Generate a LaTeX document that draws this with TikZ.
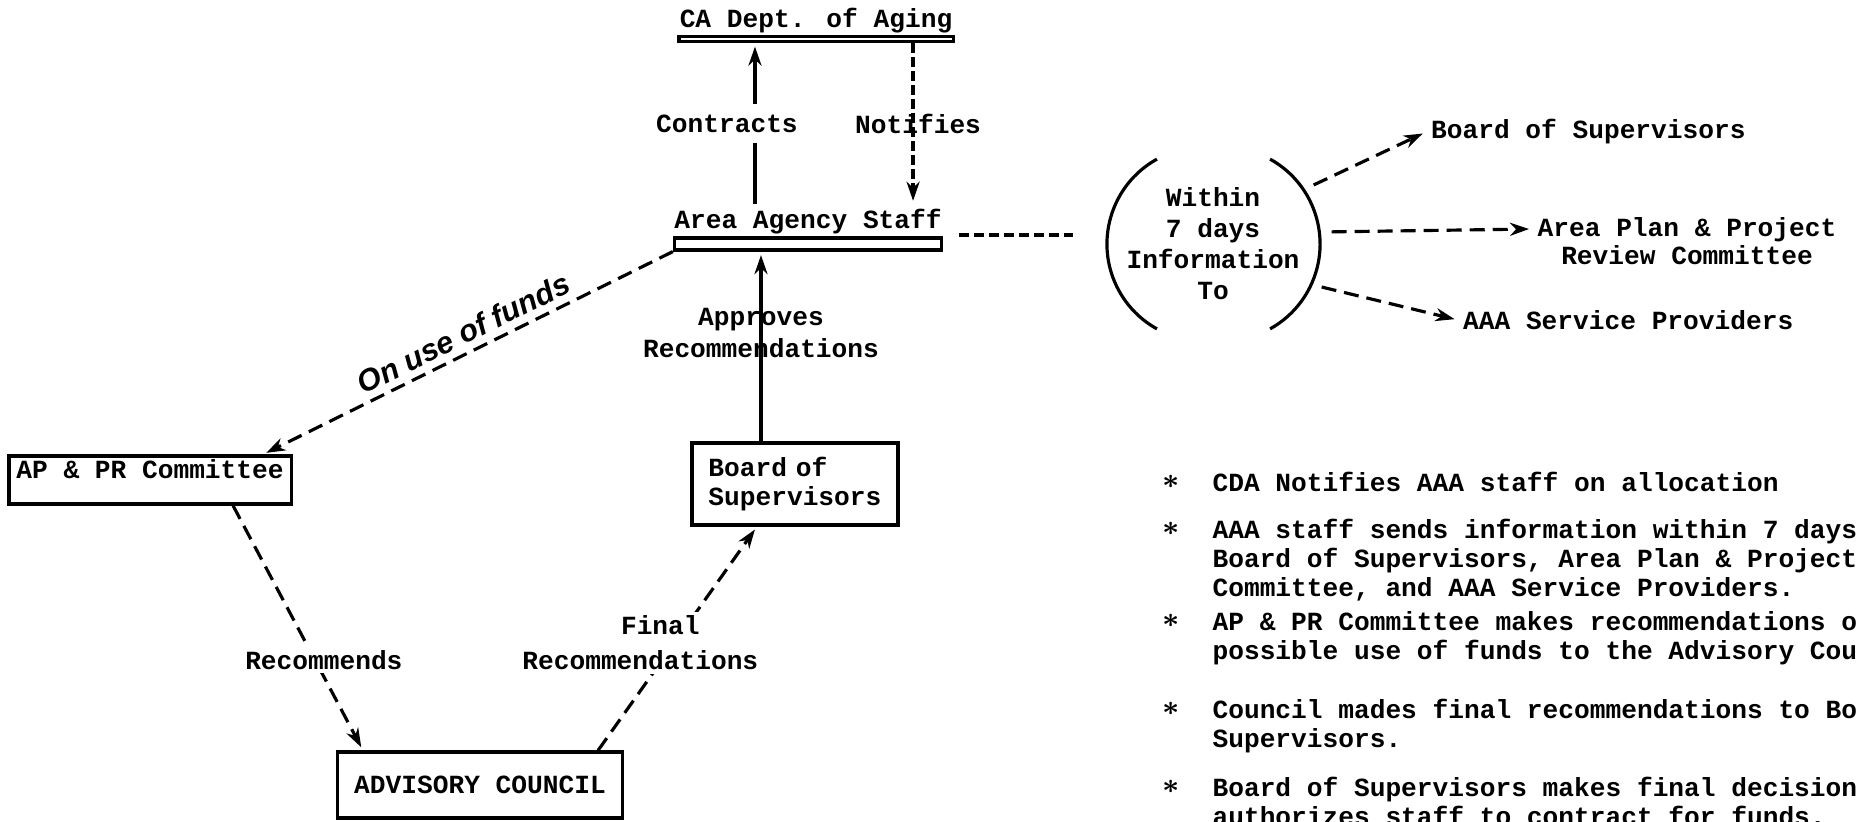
\documentclass[tikz,border=0pt]{standalone}
\usepackage{fontspec}
\usepackage{tikz}
\usetikzlibrary{arrows.meta,positioning}

\newfontfamily\tw{Liberation Mono}
\newfontfamily\handfont{Liberation Sans}
\newcommand\twfont[1]{\tw\bfseries\fontsize{7.45}{#1}\selectfont}

\begin{document}
\begin{tikzpicture}[x=0.01cm, y=-0.01cm, ->, >={Stealth[length=0.19cm, width=0.13cm, inset=0.06cm]},
                shorten >=1pt, line width=0.9pt,
                font=\twfont{8.5},
                bar node/.style={draw, rectangle, inner sep=0pt},
                box node/.style={draw, rectangle, inner sep=0pt},
                plain node/.style={inner sep=1pt},
                dashed line/.style={dash pattern=on 0.15cm off 0.08cm},
                note node/.style={anchor=north west, align=left, inner sep=0pt, font=\twfont{8.2}},
                star node/.style={inner sep=0pt, font=\fontsize{8.5}{8.5}\selectfont\boldmath}]

      \useasboundingbox (0,0) rectangle (1858,821);

      % agency bars
      \node[bar node, minimum width=2.74cm, minimum height=0.05cm] (cda) at (816,39) {};
      \node[plain node] (cdatext) [above=-0.03cm of cda] {CA Dept. of Aging};
      \node[bar node, minimum width=2.67cm, minimum height=0.12cm] (staff) at (808,244) {};
      \node[plain node] (stafftext) [above=-0.03cm of staff] {Area Agency Staff};

      % boxes
      \node[box node, minimum width=2.82cm, minimum height=0.48cm,
            text height=0.17cm, text depth=0.2cm] (appr) at (150,480) {AP \& PR Committee};
      \node[box node, minimum width=2.06cm, minimum height=0.82cm,
            text width=1.73cm, align=left] (board) at (795,484) {Board of\\Supervisors};
      \node[box node, minimum width=2.85cm, minimum height=0.66cm] (council) at (480,785) {ADVISORY COUNCIL};

      % information within 7 days
      \node[align=center, minimum width=2.14cm, minimum height=1.7cm, font=\twfont{8.8}] (info) at (1213,244)
            {Within\\7 days\\Information\\To};
      \node[plain node, anchor=west] (bosr) at (1426,132) {Board of Supervisors};
      \node[plain node, align=center, font=\twfont{8}] (apprc) at (1687,241) {Area Plan \& Project\\Review Committee};
      \node[plain node, anchor=west] (aaasp) at (1458,320) {AAA Service Providers};

      \draw[-, shorten >=0pt] ([xshift=-0.09cm]info.center) ++(119:0.97cm) arc[start angle=119, end angle=241, radius=0.97cm];
      \draw[-, shorten >=0pt] ([xshift=0.1cm]info.center) ++(61:0.97cm) arc[start angle=61, end angle=-61, radius=0.97cm];

      \draw[dashed line] ([xshift=-0.08cm, yshift=0.59cm]info.east) -- (bosr.west);
      \draw[dashed line, shorten <=0.1cm] ([yshift=0.12cm]info.east) -- ([yshift=0.12cm]apprc.west);
      \draw[dashed line] ([yshift=-0.43cm]info.east) -- (aaasp.west);

      \coordinate (link) at ([yshift=0.09cm]staff.east);
      \draw[dash pattern=on 0.1cm off 0.05cm, -, shorten <=0.16cm, shorten >=0.31cm] (link) -- (link -| info.west);

      % contracts and notifies
      \coordinate (cx) at ([xshift=-0.53cm]stafftext.north);
      \draw (cx) -- node[plain node, fill=white, inner sep=3pt, xshift=-0.28cm] (contracts) {Contracts} (cx |- cda.south);
      \coordinate (nx) at ([xshift=0.97cm]cda.south);
      \draw[dash pattern=on 0.1cm off 0.04cm] (nx) -- node[plain node, xshift=0.05cm] (notifies) {Notifies} (nx |- stafftext.north);

      \coordinate (ax) at ([xshift=-0.34cm]board.north);
      \draw (ax) -- node[plain node, pos=0.57, align=center, font=\twfont{9}] (approves) {Approves\\Recommendations} (ax |- staff.south);

      % recommendation loop
      \draw[dashed line] (staff.south west) -- node[sloped, above, pos=0.49, inner sep=2pt,
            font=\handfont\bfseries\itshape\fontsize{8.7}{9}\selectfont] (funds) {On use of funds} ([xshift=1.13cm]appr.north);
      \draw[dashed line] ([xshift=0.83cm]appr.south) -- node[plain node, fill=white, pos=0.63, xshift=0.09cm] (recommends) {Recommends} ([xshift=-1.17cm]council.north);
      \draw[dashed line] ([xshift=1.18cm]council.north) -- node[plain node, fill=white, pos=0.48, xshift=-0.34cm,
            align=center, font=\twfont{9.9}] (finalrec) {\hspace*{0.4cm}Final\\Recommendations} ([xshift=-0.38cm]board.south);

      % notes
      \node[note node] (n1) at (1211,471) {CDA Notifies AAA staff on allocation};
      \node[note node] (n2) at (1211,518) {AAA staff sends information within 7 days\\Board of Supervisors, Area Plan \& Project\\Committee, and AAA Service Providers.};
      \node[note node] (n3) at (1211,610) {AP \& PR Committee makes recommendations o\\possible use of funds to the Advisory Cou};
      \node[note node] (n4) at (1211,698) {Council mades final recommendations to Bo\\Supervisors.};
      \node[note node] (n5) at (1211,776) {Board of Supervisors makes final decision\\authorizes staff to contract for funds.};

      \node[star node] (s1) at ([xshift=-0.4cm, yshift=-0.11cm]n1.north west) {$\ast$};
      \node[star node] (s2) at ([xshift=-0.4cm, yshift=-0.11cm]n2.north west) {$\ast$};
      \node[star node] (s3) at ([xshift=-0.4cm, yshift=-0.11cm]n3.north west) {$\ast$};
      \node[star node] (s4) at ([xshift=-0.4cm, yshift=-0.11cm]n4.north west) {$\ast$};
      \node[star node] (s5) at ([xshift=-0.4cm, yshift=-0.11cm]n5.north west) {$\ast$};
  \end{tikzpicture}
\end{document}
